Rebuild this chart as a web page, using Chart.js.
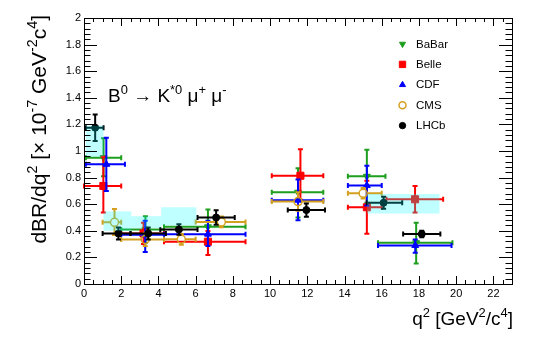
<!DOCTYPE html>
<html>
<head>
<meta charset="utf-8">
<script src="https://cdn.jsdelivr.net/npm/chart.js@4.4.0/dist/chart.umd.min.js"></script>
<style>
  html, body { margin: 0; padding: 0; background: #fff; }
</style>
</head>
<body>
<canvas id="grafico" width="540" height="339"></canvas>
<script>
// --- data (q2 in GeV2/c4, dBR/dq2 in 1e-7) ---
const experimentos = ['BaBar', 'Belle', 'CDF', 'CMS', 'LHCb'];

const babarQ = [1.05, 3.3, 6.66, 11.5, 15.2, 17.85];
const babarLo = [0.1, 2.0, 4.3, 10.09, 14.18, 15.8];
const babarHi = [2.0, 4.3, 8.68, 12.86, 16.2, 19.8];
const babarVal = [0.95, 0.41, 0.43, 0.69, 0.81, 0.31];
const babarDn = [0.14, 0.1, 0.13, 0.19, 0.2, 0.155];
const babarUp = [0.145, 0.1, 0.13, 0.18, 0.2, 0.15];

const belleQ = [1.04, 3.2, 6.66, 11.63, 15.2, 17.79];
const belleLo = [0.0, 2.0, 4.3, 10.09, 14.18, 16.25];
const belleHi = [2.0, 4.3, 8.68, 12.86, 16.0, 19.3];
const belleVal = [0.737, 0.38, 0.318, 0.814, 0.577, 0.637];
const belleDn = [0.2, 0.08, 0.1, 0.18, 0.2, 0.1];
const belleUp = [0.22, 0.08, 0.08, 0.2, 0.2, 0.1];

const cdfQ = [1.2, 3.29, 6.66, 11.5, 15.2, 17.8];
const cdfLo = [0.1, 2.0, 4.3, 10.09, 14.18, 15.8];
const cdfHi = [2.2, 4.3, 8.68, 12.86, 16.0, 19.75];
const cdfVal = [0.90, 0.37, 0.375, 0.63, 0.74, 0.29];
const cdfDn = [0.2, 0.13, 0.09, 0.15, 0.15, 0.055];
const cdfUp = [0.2, 0.106, 0.1, 0.155, 0.15, 0.045];

const cmsQ = [1.64, 3.29, 5.23, 7.38, 11.5, 15.0];
const cmsLo = [1.0, 2.0, 4.3, 6.0, 10.09, 14.18];
const cmsHi = [2.0, 4.3, 6.0, 8.68, 12.86, 16.0];
const cmsVal = [0.464, 0.335, 0.336, 0.467, 0.62, 0.682];
const cmsDn = [0.096, 0.05, 0.04, 0.04, 0.07, 0.04];
const cmsUp = [0.1, 0.05, 0.04, 0.04, 0.07, 0.04];

const lhcbQ = [0.6, 1.85, 3.45, 5.1, 7.1, 11.95, 16.1, 18.15];
const lhcbLo = [0.1, 1.0, 2.5, 4.1, 6.1, 10.95, 15.2, 17.15];
const lhcbHi = [1.05, 2.5, 4.4, 6.1, 8.1, 12.95, 17.1, 19.15];
const lhcbVal = [1.175, 0.38, 0.38, 0.41, 0.50, 0.556, 0.611, 0.376];
const lhcbDn = [0.1, 0.045, 0.045, 0.04, 0.055, 0.05, 0.045, 0.025];
const lhcbUp = [0.1, 0.045, 0.045, 0.04, 0.055, 0.05, 0.045, 0.025];

// theory bands (cyan boxes)
const bandLo = [0.1, 1.05, 2.54, 4.15, 15.2];
const bandHi = [1.05, 2.54, 4.15, 6.04, 19.1];
const bandMin = [0.957, 0.40, 0.42, 0.44, 0.53];
const bandMax = [1.19, 0.546, 0.51, 0.577, 0.677];

const xTicks = [0, 2, 4, 6, 8, 10, 12, 14, 16, 18, 20, 22];
const yTicks = [0, 0.2, 0.4, 0.6, 0.8, 1, 1.2, 1.4, 1.6, 1.8, 2];

const fuente = '"Liberation Sans", Arial, Helvetica, sans-serif';

function puntos(q, lo, hi, val, dn, up) {
   return q.map((x, i) => ({
      x: x, y: val[i],
      xMin: lo[i], xMax: hi[i],
      yMin: val[i] - dn[i], yMax: val[i] + up[i]
   }));
}

const datasets = [
   { label: experimentos[0], data: puntos(babarQ, babarLo, babarHi, babarVal, babarDn, babarUp),
     borderColor: '#1e9e1e', backgroundColor: '#1e9e1e', pointStyle: 'triangle', rotation: 180,
     pointRadius: 4, borderWidth: 1, order: 5, gap: 0, legendRadius: 3.5 },
   { label: experimentos[1], data: puntos(belleQ, belleLo, belleHi, belleVal, belleDn, belleUp),
     borderColor: '#ff0000', backgroundColor: '#ff0000', pointStyle: 'rect',
     pointRadius: 5, borderWidth: 1, order: 4, gap: 0, legendRadius: 4.5 },
   { label: experimentos[2], data: puntos(cdfQ, cdfLo, cdfHi, cdfVal, cdfDn, cdfUp),
     borderColor: '#0000ff', backgroundColor: '#0000ff', pointStyle: 'triangle',
     pointRadius: 4, borderWidth: 1, order: 3, gap: 0, legendRadius: 3.5 },
   { label: experimentos[3], data: puntos(cmsQ, cmsLo, cmsHi, cmsVal, cmsDn, cmsUp),
     borderColor: '#d4a020', backgroundColor: 'rgba(0,0,0,0)', pointStyle: 'circle',
     pointRadius: 4, borderWidth: 1.5, order: 2, gap: 4, legendRadius: 3.5 },
   { label: experimentos[4], data: puntos(lhcbQ, lhcbLo, lhcbHi, lhcbVal, lhcbDn, lhcbUp),
     borderColor: '#000000', backgroundColor: '#000000', pointStyle: 'circle',
     pointRadius: 3.5, borderWidth: 1, order: 1, gap: 0, legendRadius: 3.2 }
];

// error bars drawn under each dataset's markers
const barrasError = {
   id: 'barrasError',
   beforeDatasetDraw(chart, args) {
      const ds = chart.data.datasets[args.index];
      const ctx = chart.ctx;
      const sx = chart.scales.x, sy = chart.scales.y;
      const c = 2.5;
      ctx.save();
      ctx.strokeStyle = ds.borderColor;
      ctx.lineWidth = 2;
      ds.data.forEach(p => {
         const px = sx.getPixelForValue(p.x), py = sy.getPixelForValue(p.y);
         const x1 = sx.getPixelForValue(p.xMin), x2 = sx.getPixelForValue(p.xMax);
         const y1 = sy.getPixelForValue(p.yMax), y2 = sy.getPixelForValue(p.yMin);
         const g = ds.gap;
         ctx.beginPath();
         ctx.moveTo(x1, py); ctx.lineTo(px - g, py);
         ctx.moveTo(px + g, py); ctx.lineTo(x2, py);
         ctx.moveTo(px, y1); ctx.lineTo(px, py - g);
         ctx.moveTo(px, py + g); ctx.lineTo(px, y2);
         ctx.moveTo(x1, py - c); ctx.lineTo(x1, py + c);
         ctx.moveTo(x2, py - c); ctx.lineTo(x2, py + c);
         ctx.moveTo(px - c, y1); ctx.lineTo(px + c, y1);
         ctx.moveTo(px - c, y2); ctx.lineTo(px + c, y2);
         ctx.stroke();
      });
      ctx.restore();
   }
};

// theory boxes, semi transparent on top
const bandas = {
   id: 'bandas',
   afterDatasetsDraw(chart) {
      const ctx = chart.ctx;
      const sx = chart.scales.x, sy = chart.scales.y;
      ctx.save();
      ctx.fillStyle = 'rgba(0,255,255,0.25)';
      bandLo.forEach((lo, i) => {
         const x1 = sx.getPixelForValue(lo), x2 = sx.getPixelForValue(bandHi[i]);
         const y1 = sy.getPixelForValue(bandMax[i]), y2 = sy.getPixelForValue(bandMin[i]);
         ctx.fillRect(x1, y1, x2 - x1, y2 - y1);
      });
      ctx.restore();
   }
};

function anchoRico(ctx, partes, size) {
   let w = 0;
   partes.forEach(p => {
      ctx.font = (p.sup ? size * 0.68 : size) + 'px ' + fuente;
      w += ctx.measureText(p.t).width;
   });
   return w;
}

function textoRico(ctx, x, y, partes, size) {
   ctx.textBaseline = 'alphabetic';
   ctx.textAlign = 'left';
   partes.forEach(p => {
      const s = p.sup ? size * 0.68 : size;
      ctx.font = s + 'px ' + fuente;
      ctx.fillText(p.t, x, p.sup ? y - size * 0.42 : y);
      x += ctx.measureText(p.t).width;
   });
}

// frame, ROOT-like ticks, titles and legend
const marco = {
   id: 'marco',
   afterDraw(chart) {
      const ctx = chart.ctx;
      const a = chart.chartArea;
      const sx = chart.scales.x, sy = chart.scales.y;
      ctx.save();
      ctx.strokeStyle = '#000';
      ctx.lineWidth = 1;
      ctx.strokeRect(Math.round(a.left) + 0.5, Math.round(a.top) + 0.5,
                     Math.round(a.right - a.left), Math.round(a.bottom - a.top));
      ctx.beginPath();
      for (let v = 0; v <= 23.001; v += 0.5) {
         const x = Math.round(sx.getPixelForValue(v)) + 0.5;
         const len = Math.abs(v % 2) < 1e-6 ? 8 : 4;
         ctx.moveTo(x, a.bottom); ctx.lineTo(x, a.bottom - len);
         ctx.moveTo(x, a.top); ctx.lineTo(x, a.top + len);
      }
      for (let k = 0; k <= 50; k++) {
         const v = k * 0.04;
         const y = Math.round(sy.getPixelForValue(v)) + 0.5;
         const len = k % 5 === 0 ? 13 : 6.5;
         ctx.moveTo(a.left, y); ctx.lineTo(a.left + len, y);
         ctx.moveTo(a.right, y); ctx.lineTo(a.right - len, y);
      }
      ctx.stroke();

      ctx.fillStyle = '#000';
      // process label
      textoRico(ctx, 108, 101.5, [
         { t: 'B' }, { t: '0', sup: true }, { t: ' \u2192 K' }, { t: '*0', sup: true },
         { t: ' \u03bc' }, { t: '+', sup: true }, { t: ' \u03bc' }, { t: '-', sup: true }
      ], 19);

      // x title
      const tituloX = [{ t: 'q' }, { t: '2', sup: true }, { t: ' [GeV' }, { t: '2', sup: true },
                       { t: '/c' }, { t: '4', sup: true }, { t: ']' }];
      const wx = anchoRico(ctx, tituloX, 19);
      textoRico(ctx, 513 - wx, 325, tituloX, 19);

      // y title
      const tituloY = [{ t: 'dBR/dq' }, { t: '2', sup: true }, { t: ' [\u00d7 10' }, { t: '-7', sup: true },
                       { t: ' GeV' }, { t: '-2', sup: true }, { t: 'c' }, { t: '4', sup: true }, { t: ']' }];
      const wy = anchoRico(ctx, tituloY, 21);
      ctx.save();
      ctx.translate(46, 15);
      ctx.rotate(-Math.PI / 2);
      textoRico(ctx, -wy, 0, tituloY, 21);
      ctx.restore();

      // legend
      chart.data.datasets.forEach((ds, i) => {
         const yy = 44 + i * 20.4;
         ctx.fillStyle = ds.backgroundColor;
         ctx.strokeStyle = ds.borderColor;
         ctx.lineWidth = ds.borderWidth;
         Chart.helpers.drawPoint(ctx, {
            pointStyle: ds.pointStyle, rotation: ds.rotation || 0,
            radius: ds.legendRadius, borderWidth: ds.borderWidth
         }, 402.5, yy);
         ctx.fillStyle = '#000';
         ctx.font = '11.5px ' + fuente;
         ctx.textAlign = 'left';
         ctx.textBaseline = 'middle';
         ctx.fillText(ds.label, 416, yy + 0.5);
      });
      ctx.restore();
   }
};

const ctx = document.getElementById('grafico').getContext('2d');
new Chart(ctx, {
   type: 'scatter',
   data: { datasets: datasets },
   options: {
      responsive: false,
      animation: false,
      layout: { padding: { top: 18, right: 28, left: 0, bottom: 0 } },
      plugins: { legend: { display: false }, tooltip: { enabled: false } },
      scales: {
         x: {
            type: 'linear', min: 0, max: 23,
            afterFit: s => { s.height = 55; },
            afterBuildTicks: s => { s.ticks = xTicks.map(v => ({ value: v })); },
            grid: { display: false, drawTicks: false },
            border: { display: false },
            ticks: { font: { family: fuente, size: 11 }, color: '#000', padding: 3,
                     maxRotation: 0, autoSkip: false, callback: v => String(v) }
         },
         y: {
            type: 'linear', min: 0, max: 2,
            afterFit: s => { s.width = 84; },
            afterBuildTicks: s => { s.ticks = yTicks.map(v => ({ value: v })); },
            grid: { display: false, drawTicks: false },
            border: { display: false },
            ticks: { font: { family: fuente, size: 11 }, color: '#000', padding: 3,
                     autoSkip: false, callback: v => String(v) }
         }
      }
   },
   plugins: [barrasError, bandas, marco]
});
</script>
</body>
</html>
